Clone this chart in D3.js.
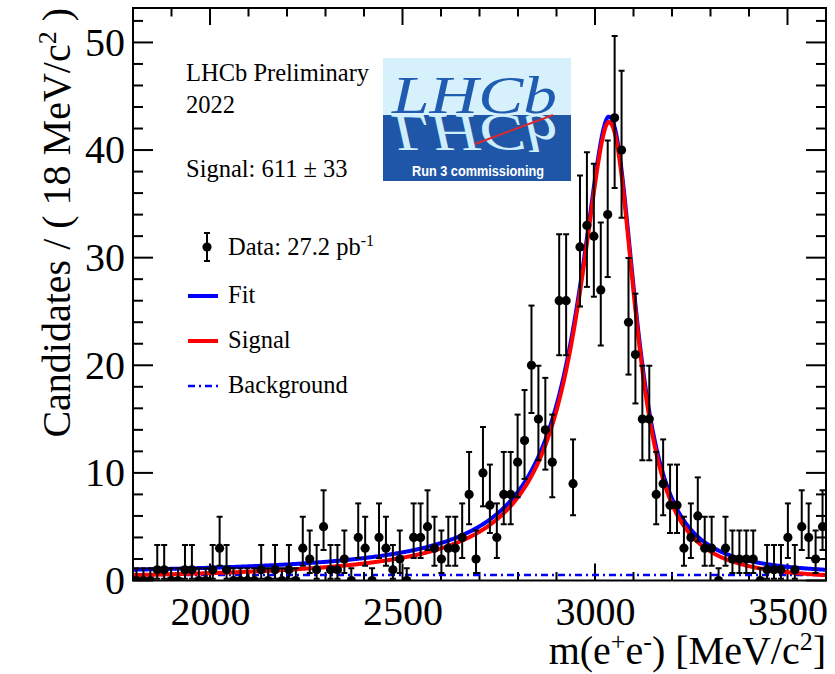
<!DOCTYPE html>
<html><head><meta charset="utf-8">
<script src="https://cdn.jsdelivr.net/npm/d3@7"></script>
<style>body{margin:0;background:#fff} svg{display:block}</style>
</head><body>
<svg id="c" width="835" height="674"></svg>
<script>
// ---- data ----
const massLow = 1800, massHigh = 3600, binWidth = 18;
const binCenters = d3.range(100).map(i => massLow + binWidth * (i + 0.5));
const counts = [
  0,0,0,1,1,0,0,1,1,0,
  0,1,3,1,0,0,0,0,1,0,
  1,0,1,0,3,2,1,5,1,1,
  2,0,4,3,0,4,3,1,2,0,
  4,4,5,3,2,3,3,4,8,2,
  10,7,4,8,8,11,13,20,15,14,
  11,26,26,9,31,33,32,27,34,43,
  40,24,21,15,15,8,9,7,7,3,
  4,6,3,3,0,3,2,2,2,2,
  0,1,1,1,4,1,5,4,2,5
];
const xMajorTicks = [2000, 2500, 3000, 3500];
const yMajorTicks = [0, 10, 20, 30, 40, 50];
// fit model parameters (signal peak shape + flat background), per 18 MeV bin
const sigPeak = 42.6, sigMean = 3035, sigGammaL = 100, sigGammaR = 82, sigPowL = 1.76, sigPowR = 2.3;
const bkgLevel = 0.5;
const legendLabels = ["Fit", "Signal", "Background"];

// ---- setup ----
const svg = d3.select("#c");
const L = 133, R = 826, T = 8, B = 580.5;
const x = d3.scaleLinear([massLow, massHigh], [L, R]);
const y = d3.scaleLinear([0, 53.2], [B, T]);
const serif = "'Liberation Serif','Times New Roman',serif";

function signal(m) {
  const d = m - sigMean;
  const g = d < 0 ? sigGammaL : sigGammaR, p = d < 0 ? sigPowL : sigPowR;
  return sigPeak / (1 + Math.pow(Math.abs(d) / g, p));
}
function total(m) { return signal(m) + bkgLevel; }

// Poisson (Garwood) 68.27% intervals, RooFit style
const alpha = 0.158655;
function poisCdf(n, mu) { let t = Math.exp(-mu), s = t; for (let k = 1; k <= n; k++) { t *= mu / k; s += t; } return s; }
function interval(n) {
  if (n === 0) return [0, 1.148];
  let a = 0, b = n;
  for (let i = 0; i < 60; i++) { const mid = (a + b) / 2; (1 - poisCdf(n - 1, mid) < alpha) ? a = mid : b = mid; }
  const lo = (a + b) / 2;
  a = n; b = n + 10 * Math.sqrt(n) + 10;
  for (let i = 0; i < 60; i++) { const mid = (a + b) / 2; (poisCdf(n, mid) > alpha) ? a = mid : b = mid; }
  return [lo, (a + b) / 2];
}

svg.append("defs").append("clipPath").attr("id", "clip")
  .append("rect").attr("x", L).attr("y", T).attr("width", R - L).attr("height", B - T);

// ---- axes ticks (inside, all four sides) ----
const xMinor = d3.range(1800, 3601, 100);
const yMinor = d3.range(0, 53, 2);
const tickG = svg.append("g").attr("stroke", "#000").attr("stroke-width", 2);
xMinor.forEach(v => {
  const len = xMajorTicks.includes(v) ? 17 : 8.5;
  tickG.append("line").attr("x1", x(v)).attr("x2", x(v)).attr("y1", B).attr("y2", B - len);
  tickG.append("line").attr("x1", x(v)).attr("x2", x(v)).attr("y1", T).attr("y2", T + len);
});
yMinor.forEach(v => {
  const len = yMajorTicks.includes(v) ? 20 : 10;
  tickG.append("line").attr("y1", y(v)).attr("y2", y(v)).attr("x1", L).attr("x2", L + len);
  tickG.append("line").attr("y1", y(v)).attr("y2", y(v)).attr("x1", R).attr("x2", R - len);
});

// tick labels via d3 axes (no lines)
const xAxis = svg.append("g").attr("transform", `translate(0,${B})`)
  .call(d3.axisBottom(x).tickValues(xMajorTicks).tickSize(0).tickPadding(16).tickFormat(d3.format("d")));
const yAxis = svg.append("g").attr("transform", `translate(${L},0)`)
  .call(d3.axisLeft(y).tickValues(yMajorTicks).tickSize(0).tickPadding(8).tickFormat(d3.format("d")));
[xAxis, yAxis].forEach(a => {
  a.select(".domain").remove();
  a.selectAll("text").attr("font-family", serif).attr("font-size", 40).attr("fill", "#000");
});

// ---- curves ----
const mGrid = d3.range(massLow, massHigh + 0.01, 2);
const plot = svg.append("g").attr("clip-path", "url(#clip)");
plot.append("path").attr("d", d3.line().x(m => x(m)).y(() => y(bkgLevel))(mGrid))
  .attr("fill", "none").attr("stroke", "#0000ff").attr("stroke-width", 2.5).attr("stroke-dasharray", "7,4,2,4");
plot.append("path").attr("d", d3.line().x(m => x(m)).y(m => y(total(m)))(mGrid))
  .attr("fill", "none").attr("stroke", "#0000ff").attr("stroke-width", 4);
plot.append("path").attr("d", d3.line().x(m => x(m)).y(m => y(signal(m)))(mGrid))
  .attr("fill", "none").attr("stroke", "#ff0000").attr("stroke-width", 4);

// ---- data points ----
const pts = plot.append("g");
binCenters.forEach((m, i) => {
  const n = counts[i], [lo, hi] = interval(n), cx = x(m);
  pts.append("line").attr("x1", cx).attr("x2", cx).attr("y1", y(lo)).attr("y2", y(hi)).attr("stroke", "#000").attr("stroke-width", 2);
  [lo, hi].forEach(v => { if (v > 0) pts.append("line").attr("x1", cx - 3).attr("x2", cx + 3).attr("y1", y(v)).attr("y2", y(v)).attr("stroke", "#000").attr("stroke-width", 2); });
  pts.append("circle").attr("cx", cx).attr("cy", y(n)).attr("r", 4.6).attr("fill", "#000");
});

// frame
svg.append("rect").attr("x", L).attr("y", T).attr("width", R - L).attr("height", B - T)
  .attr("fill", "none").attr("stroke", "#000").attr("stroke-width", 2);

// ---- axis titles ----
const xt = svg.append("text").attr("x", R).attr("y", 664).attr("text-anchor", "end")
  .attr("font-family", serif).attr("font-size", 40);
xt.append("tspan").text("m(e");
xt.append("tspan").attr("font-size", 26).attr("baseline-shift", "55%").text("+");
xt.append("tspan").text("e");
xt.append("tspan").attr("font-size", 26).attr("baseline-shift", "55%").text("-");
xt.append("tspan").text(") [MeV/c");
xt.append("tspan").attr("font-size", 26).attr("baseline-shift", "55%").text("2");
xt.append("tspan").text("]");

const yt = svg.append("text").attr("transform", "translate(70,8) rotate(-90)").attr("text-anchor", "end")
  .attr("font-family", serif).attr("font-size", 40);
yt.append("tspan").text("Candidates / ( 18 MeV/c");
yt.append("tspan").attr("font-size", 26).attr("baseline-shift", "55%").text("2");
yt.append("tspan").text(" )");

// ---- annotation texts ----
const ann = svg.append("g").attr("font-family", serif).attr("font-size", 24.5).attr("fill", "#000");
ann.append("text").attr("x", 186).attr("y", 81).text("LHCb Preliminary");
ann.append("text").attr("x", 186).attr("y", 113).text("2022");
ann.append("text").attr("x", 186).attr("y", 177).text("Signal: 611 \u00b1 33");

// legend
const lx = 207;
ann.append("line").attr("x1", lx).attr("x2", lx).attr("y1", 233).attr("y2", 261).attr("stroke", "#000").attr("stroke-width", 2);
[233, 261].forEach(v => ann.append("line").attr("x1", lx - 3).attr("x2", lx + 3).attr("y1", v).attr("y2", v).attr("stroke", "#000").attr("stroke-width", 2));
ann.append("circle").attr("cx", lx).attr("cy", 247).attr("r", 4.6).attr("fill", "#000");
const dt = ann.append("text").attr("x", 228).attr("y", 255);
dt.append("tspan").text("Data: 27.2 pb");
dt.append("tspan").attr("font-size", 16).attr("baseline-shift", "55%").text("-1");
const legStyles = [
  {c: "#0000ff", d: null, w: 4},
  {c: "#ff0000", d: null, w: 4},
  {c: "#0000ff", d: "7,4,2,4", w: 2.5}
];
legendLabels.forEach((lab, i) => {
  const yy = 296 + 45 * i;
  ann.append("line").attr("x1", 188).attr("x2", 218).attr("y1", yy).attr("y2", yy)
    .attr("stroke", legStyles[i].c).attr("stroke-width", legStyles[i].w).attr("stroke-dasharray", legStyles[i].d);
  ann.append("text").attr("x", 228).attr("y", yy + 7).text(lab);
});

// ---- LHCb logo ----
const logo = svg.append("g");
logo.append("rect").attr("x", 383).attr("y", 58).attr("width", 188).attr("height", 57).attr("fill", "#d6f1fb");
logo.append("rect").attr("x", 383).attr("y", 115).attr("width", 188).attr("height", 66).attr("fill", "#1f56a8");
logo.append("defs").append("clipPath").attr("id", "lc")
  .append("rect").attr("x", 383).attr("y", 115).attr("width", 188).attr("height", 66);
logo.append("g").attr("clip-path", "url(#lc)")
  .append("text").attr("x", 392).attr("y", 113).attr("transform", "translate(0,228) scale(1,-1)")
  .attr("font-family", serif).attr("font-style", "italic").attr("font-size", 52)
  .attr("textLength", 165).attr("lengthAdjust", "spacingAndGlyphs").attr("fill", "#cdeefa").text("LHCb");
logo.append("text").attr("x", 392).attr("y", 113)
  .attr("font-family", serif).attr("font-style", "italic").attr("font-size", 52)
  .attr("textLength", 165).attr("lengthAdjust", "spacingAndGlyphs").attr("fill", "#1f5bb0").text("LHCb");
logo.append("line").attr("x1", 475).attr("y1", 144).attr("x2", 553).attr("y2", 115).attr("stroke", "#e0282a").attr("stroke-width", 2);
logo.append("text").attr("x", 412).attr("y", 176).attr("font-family", "'Liberation Sans',Arial,sans-serif")
  .attr("font-weight", "bold").attr("font-size", 14).attr("textLength", 132).attr("lengthAdjust", "spacingAndGlyphs")
  .attr("fill", "#fff").text("Run 3 commissioning");
</script>
</body></html>
